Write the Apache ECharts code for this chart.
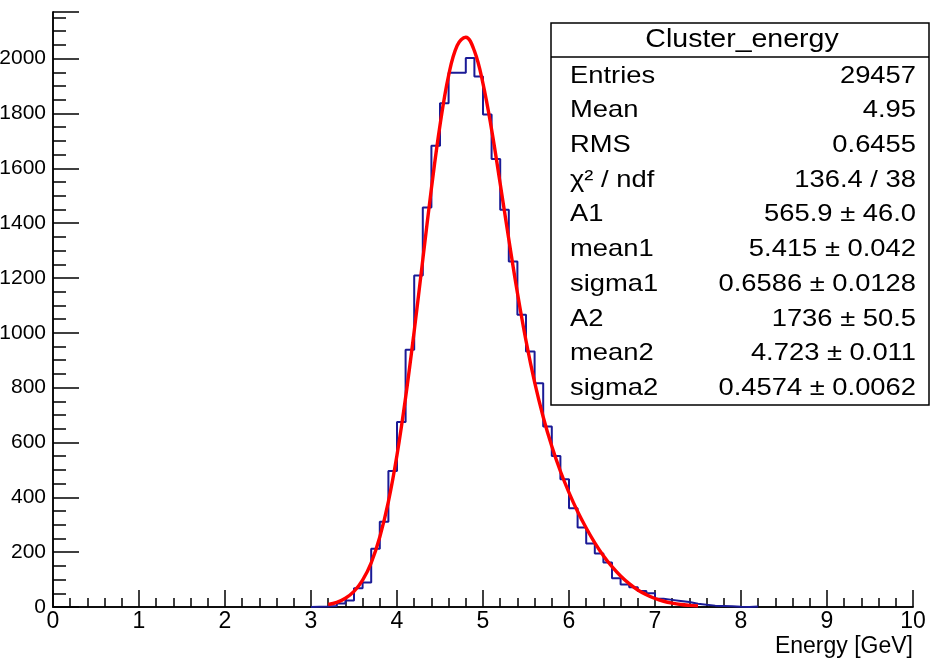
<!DOCTYPE html>
<html>
<head>
<meta charset="utf-8">
<title>Cluster_energy</title>
<script src="https://cdn.jsdelivr.net/npm/echarts@6.0.0/dist/echarts.min.js"></script>
<style>
  html, body { margin: 0; padding: 0; background: #fff; }
  #main { width: 930px; height: 661px; }
</style>
</head>
<body>
<div id="main"></div>
<script>
// histogram: bins of 0.1 GeV starting at 3.0
const binStart = 3.0;
const binWidth = 0.1;
const counts = [
  1, 2, 4, 13, 24, 68, 89, 212, 311, 496,
  675, 938, 1209, 1457, 1682, 1837, 1948, 1948, 2002, 1935,
  1796, 1634, 1449, 1260, 1066, 932, 816, 658, 551, 466,
  360, 290, 232, 195, 162, 105, 82, 72, 58, 50,
  30, 26, 22, 18, 12, 8, 5, 4, 3, 1,
  0, 2
];

// fit curve (double gaussian), sampled every 0.1 from 3.2 to 7.5
const fitStart = 3.2;
const fitStep = 0.1;
const fitValues = [
  9, 17, 32, 57, 98, 161, 255, 384, 554, 764,
  1006, 1267, 1526, 1757, 1938, 2048, 2078, 2028, 1909, 1741,
  1544, 1341, 1146, 971, 820, 693, 586, 495, 417, 348,
  288, 234, 187, 147, 113, 85, 62, 45, 31, 21,
  14, 9, 6, 4
];

const xTicks = ['0', '1', '2', '3', '4', '5', '6', '7', '8', '9', '10'];

const statsTitle = 'Cluster_energy';
const statsLabels = ['Entries', 'Mean', 'RMS', 'χ² / ndf', 'A1', 'mean1', 'sigma1', 'A2', 'mean2', 'sigma2'];
const statsValues = ['29457', '4.95', '0.6455', '136.4 / 38', '565.9 ± 46.0', '5.415 ± 0.042',
  '0.6586 ± 0.0128', '1736 ± 50.5', '4.723 ± 0.011', '0.4574 ± 0.0062'];

let histData = [[binStart, 0]];
counts.forEach((c, i) => {
  histData.push([Math.round((binStart + i * binWidth) * 10) / 10, c]);
});
let binEnd = Math.round((binStart + counts.length * binWidth) * 10) / 10;
histData.push([binEnd, counts[counts.length - 1]]);
histData.push([binEnd, 0]);

let fitData = fitValues.map((v, i) => [Math.round((fitStart + i * fitStep) * 10) / 10, v]);

let font = '"Liberation Sans", Arial, sans-serif';
let narrow = '"Liberation Sans Narrow", "Arial Narrow", "Liberation Sans", sans-serif';
let myChart = echarts.init(document.getElementById('main'));

// stats box
let boxLeft = 551, boxTop = 23, boxRight = 929, boxBottom = 405;
let rowTop = 76, rowStep = 34.7;
let stretch = 1.14;
let graphics = [
  {
    type: 'rect',
    shape: { x: boxLeft, y: boxTop, width: boxRight - boxLeft, height: boxBottom - boxTop },
    style: { fill: '#fff', stroke: '#000', lineWidth: 1.5 },
    z: 100
  },
  {
    type: 'line',
    shape: { x1: boxLeft, y1: 57, x2: boxRight, y2: 57 },
    style: { stroke: '#000', lineWidth: 1.5 },
    z: 101
  },
  {
    type: 'text',
    x: 742, y: 40, scaleX: stretch,
    style: { text: statsTitle, x: 0, y: 0, font: '25px ' + font, fill: '#000', align: 'center', verticalAlign: 'middle' },
    z: 102
  }
];
statsLabels.forEach((label, i) => {
  let y = rowTop + i * rowStep;
  graphics.push({
    type: 'text',
    x: 570, y: y, scaleX: stretch,
    style: { text: label, x: 0, y: 0, font: '24px ' + font, fill: '#000', align: 'left', verticalAlign: 'middle' },
    z: 102
  });
  graphics.push({
    type: 'text',
    x: 916, y: y, scaleX: stretch,
    style: { text: statsValues[i], x: 0, y: 0, font: '24px ' + font, fill: '#000', align: 'right', verticalAlign: 'middle' },
    z: 102
  });
});

let axisLabel = {
  color: '#000',
  fontSize: 23,
  fontFamily: narrow
};

let option = {
  animation: false,
  backgroundColor: '#fff',
  grid: {
    left: 53,
    right: 17,
    top: 12,
    bottom: 54,
    containLabel: false,
    outerBoundsMode: 'none'
  },
  xAxis: [
    {
      type: 'value',
      min: 0,
      max: 10,
      interval: 1,
      name: 'Energy [GeV]',
      nameLocation: 'end',
      nameGap: 0,
      nameTextStyle: {
        color: '#000',
        fontSize: 23,
        fontFamily: narrow,
        align: 'right',
        verticalAlign: 'top',
        padding: [28, 0, 0, 0]
      },
      axisLine: { lineStyle: { color: '#000', width: 1.5 } },
      axisTick: { inside: true, length: 17, lineStyle: { color: '#000', width: 1.5 } },
      minorTick: { show: true, splitNumber: 5, length: 9, lineStyle: { color: '#000', width: 1.5 } },
      splitLine: { show: false },
      axisLabel: Object.assign({ margin: 3, formatter: (v) => xTicks[Math.round(v)] }, axisLabel)
    },
    {
      type: 'value',
      position: 'top',
      min: 0,
      max: 10,
      axisLine: { show: true, lineStyle: { color: '#000', width: 1.5 } },
      axisTick: { show: false },
      axisLabel: { show: false },
      splitLine: { show: false }
    }
  ],
  yAxis: [
    {
      type: 'value',
      min: 0,
      max: 2170,
      interval: 200,
      axisLine: { show: true, lineStyle: { color: '#000', width: 1.5 } },
      axisTick: { inside: true, length: 26, lineStyle: { color: '#000', width: 1.5 } },
      minorTick: { show: true, splitNumber: 4, length: 13, lineStyle: { color: '#000', width: 1.5 } },
      splitLine: { show: false },
      axisLabel: Object.assign({}, axisLabel, { fontSize: 21, margin: 7, showMaxLabel: false, formatter: (v) => String(v) })
    },
    {
      type: 'value',
      position: 'right',
      min: 0,
      max: 2170,
      axisLine: { show: true, lineStyle: { color: '#000', width: 1.5 } },
      axisTick: { show: false },
      axisLabel: { show: false },
      splitLine: { show: false }
    }
  ],
  series: [
    {
      name: 'Cluster_energy',
      type: 'line',
      step: 'end',
      data: histData,
      symbol: 'none',
      lineStyle: { color: '#1a1a96', width: 2 },
      z: 3
    },
    {
      name: 'fit',
      type: 'line',
      data: fitData,
      smooth: 0.4,
      symbol: 'none',
      lineStyle: { color: '#ff0000', width: 3.4 },
      z: 4
    }
  ],
  graphic: graphics
};
myChart.setOption(option);
</script>
</body>
</html>
